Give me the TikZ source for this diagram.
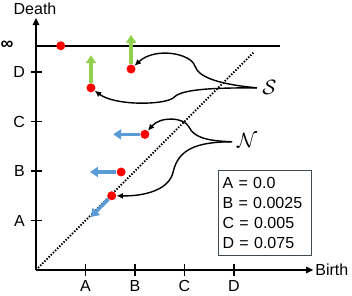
\documentclass[tikz,border=0pt]{standalone}
\usepackage{fontspec}
\setmainfont{Liberation Sans}
\usetikzlibrary{arrows.meta}
\definecolor{dotred}{HTML}{FF0000}
\definecolor{upgreen}{HTML}{92D050}
\definecolor{leftblue}{HTML}{5B9BD5}
\definecolor{boxgray}{HTML}{404850}

\begin{document}
\begin{tikzpicture}[x=49.5pt,y=49.5pt,font=\fontsize{16}{19}\selectfont,
  pdot/.style={circle,fill=dotred,minimum size=9pt,inner sep=0pt},
  moveup/.style={upgreen,line width=3.6pt,-{Triangle[length=8pt,width=10pt]}},
  moveleft/.style={leftblue,line width=3.6pt,-{Triangle[length=8pt,width=10pt]}},
  flow/.style={black,line width=1.4pt,-{Latex[length=6.5pt,width=6pt]}},
  axisline/.style={line width=1.6pt,-{Triangle[length=7pt,width=6.5pt]}},
  calfont/.style={font=\fontsize{21}{21}\selectfont,inner sep=0pt,anchor=west}]
  \useasboundingbox (-0.7273,-0.5253) rectangle (6.3838,5.4545);

  % Axes, ticks and tick labels (one tick per unit).
  \draw[axisline] (0,0) -- (5.60,0);
  \draw[axisline] (0,0) -- (0,5.09);
  \node (death) at (-0.02,5.27) {Death};
  \node[anchor=west,inner sep=0pt] (birth) at (5.64,0) {Birth};
  \foreach \k/\l in {1/A,2/B,3/C,4/D} {
    \draw[line width=1.6pt] (\k,-0.12) -- (\k,0.12);
    \draw[line width=1.6pt] (-0.10,\k) -- (0.12,\k);
    \node[anchor=base,inner sep=0pt] (xl\l) at (\k,-0.44) {\l};
    \node[anchor=east,inner sep=0pt] (yl\l) at (-0.22,\k) {\l};
  }

  % Infinity level and the diagonal.
  \draw[line width=1.5pt] (0,4.53) -- (4.93,4.53);
  \node[font=\fontsize{18}{18}\selectfont\bfseries,inner sep=0pt] (inflabel) at (-0.585,4.545) {∞};
  \draw[line width=1.8pt,dash pattern=on 1.4pt off 1.6pt] (0,0) -- (4.4,4.4);

  % Diagram points.
  \node[pdot] (inf) at (0.50,4.53) {};
  \node[pdot] (sTop) at (1.92,4.06) {};
  \node[pdot] (sLow) at (1.11,3.68) {};
  \node[pdot] (nTop) at (2.20,2.74) {};
  \node[pdot] (nMid) at (1.72,1.98) {};
  \node[pdot] (nLow) at (1.53,1.50) {};

  % Moves of the points.
  \coordinate (sTopUp) at (1.92,4.75);
  \coordinate (sLowUp) at (1.11,4.34);
  \coordinate (nTopLeft) at (1.56,2.74);
  \coordinate (nMidLeft) at (1.09,1.98);
  \coordinate (nLowDown) at (1.105,1.07);
  \draw[moveup] (sTop) -- (sTopUp);
  \draw[moveup] (sLow) -- (sLowUp);
  \draw[moveleft] (nTop) -- (nTopLeft);
  \draw[moveleft] (nMid) -- (nMidLeft);
  \draw[moveleft] (nLow) -- (nLowDown);

  % Labels S and N with their branches.
  \coordinate (sCusp) at (4.46,3.68);
  \coordinate (nCusp) at (3.96,2.59);
  \node[calfont] (sLabel) at (4.57,3.69) {$\mathcal{S}$};
  \node[calfont] (nLabel) at (4.06,2.61) {$\mathcal{N}$};
  \draw[flow] (sCusp) .. controls (3.82,3.74) and (3.29,3.86) .. (3.21,4.12)
    .. controls (3.13,4.38) and (2.40,4.51) .. (sTop);
  \draw[flow] (sCusp) .. controls (3.62,3.68) and (2.95,3.66) .. (2.79,3.49)
    .. controls (2.63,3.33) and (1.60,3.31) .. (sLow);
  \draw[flow] (nCusp) .. controls (3.41,2.61) and (3.19,2.69) .. (3.09,2.89)
    .. controls (2.99,3.09) and (2.51,3.11) .. (nTop);
  \draw[flow] (nCusp) .. controls (3.21,2.59) and (2.87,2.42) .. (2.77,1.98)
    .. controls (2.69,1.62) and (2.20,1.49) .. (nLow);

  % Legend of the tick values.
  \node[draw=boxgray,line width=0.8pt,anchor=north west,minimum width=93pt,
    minimum height=85pt,text width=85pt,align=left,inner xsep=4pt,
    font=\fontsize{16}{19.8}\selectfont] (legend) at (3.68,2.02)
    {A = 0.0\\B = 0.0025\\C = 0.005\\D = 0.075};
\end{tikzpicture}
\end{document}
